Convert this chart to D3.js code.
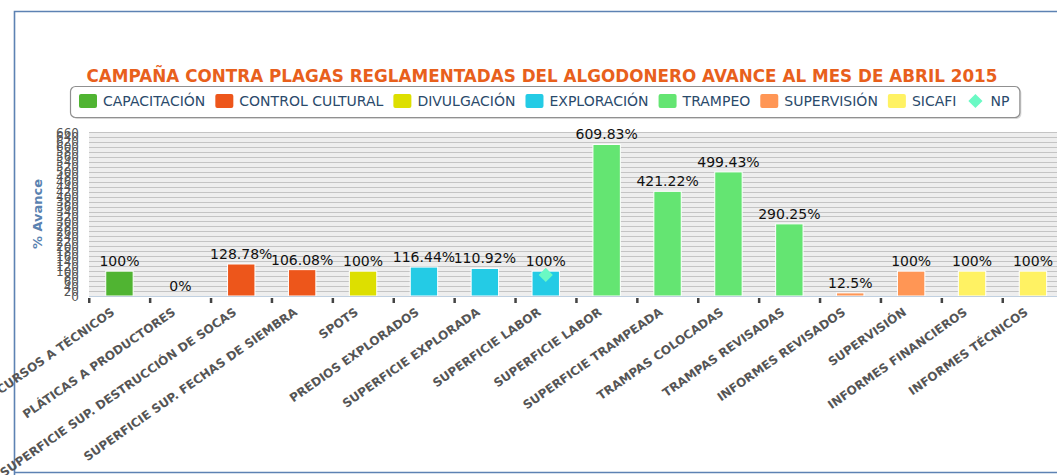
<!DOCTYPE html>
<html>
<head>
<meta charset="utf-8">
<script src="https://cdn.jsdelivr.net/npm/d3@7"></script>
<style>
  html, body { margin: 0; padding: 0; background: #fff; }
  svg { display: block; font-family: "DejaVu Sans", Verdana, sans-serif; }
</style>
</head>
<body>
<svg id="chart" width="1057" height="475"></svg>
<script>
// ---- data ----
const categories = [
  "CURSOS A TÉCNICOS", "PLÁTICAS A PRODUCTORES", "SUPERFICIE SUP. DESTRUCCIÓN DE SOCAS",
  "SUPERFICIE SUP. FECHAS DE SIEMBRA", "SPOTS", "PREDIOS EXPLORADOS", "SUPERFICIE EXPLORADA",
  "SUPERFICIE LABOR", "SUPERFICIE LABOR", "SUPERFICIE TRAMPEADA", "TRAMPAS COLOCADAS",
  "TRAMPAS REVISADAS", "INFORMES REVISADOS", "SUPERVISIÓN", "INFORMES FINANCIEROS", "INFORMES TÉCNICOS"
];
const values = [100, 0, 128.78, 106.08, 100, 116.44, 110.92, 100, 609.83, 421.22, 499.43, 290.25, 12.5, 100, 100, 100];
const valueLabels = ["100%", "0%", "128.78%", "106.08%", "100%", "116.44%", "110.92%", "100%",
  "609.83%", "421.22%", "499.43%", "290.25%", "12.5%", "100%", "100%", "100%"];
const seriesOfBar = ["CAPACITACIÓN", "CAPACITACIÓN", "CONTROL CULTURAL", "CONTROL CULTURAL", "DIVULGACIÓN",
  "EXPLORACIÓN", "EXPLORACIÓN", "EXPLORACIÓN", "TRAMPEO", "TRAMPEO", "TRAMPEO", "TRAMPEO",
  "SUPERVISIÓN", "SUPERVISIÓN", "SICAFI", "SICAFI"];
const seriesNames = ["CAPACITACIÓN", "CONTROL CULTURAL", "DIVULGACIÓN", "EXPLORACIÓN", "TRAMPEO", "SUPERVISIÓN", "SICAFI", "NP"];
const seriesColors = ["#50B432", "#ED561B", "#DDDF00", "#24CBE5", "#64E572", "#FF9655", "#FFF263", "#6AF9C4"];
const npCategoryIndex = [7];
const npValues = [85];
const yTicks = d3.range(0, 661, 20);
const titleText = "CAMPAÑA CONTRA PLAGAS REGLAMENTADAS DEL ALGODONERO AVANCE AL MES DE ABRIL 2015";
const yTitle = "% Avance";

// ---- layout ----
const svg = d3.select("#chart");
const plot = { left: 89, top: 132, bottom: 296, step: 60.9 };
const idx = categories.map((_, i) => i);
const x = d3.scaleBand().domain(idx).range([plot.left, plot.left + plot.step * categories.length]).padding(0);
const y = d3.scaleLinear().domain([0, 660]).range([plot.bottom, plot.top]);
const color = d3.scaleOrdinal().domain(seriesNames).range(seriesColors);

// frame
svg.append("path").attr("d", "M14.5,475 L14.5,11.5 L1060,11.5 M14.5,472.5 L1060,472.5")
  .attr("fill", "none").attr("stroke", "#5d82b3").attr("stroke-width", 1.6);

// plot background
svg.append("rect").attr("x", plot.left).attr("y", plot.top)
  .attr("width", 1100 - plot.left).attr("height", plot.bottom - plot.top)
  .attr("fill", "#eeeeee");

// gridlines
svg.append("g").selectAll("line").data(yTicks).join("line")
  .attr("x1", plot.left).attr("x2", 1100)
  .attr("y1", d => Math.round(y(d)) + 0.5).attr("y2", d => Math.round(y(d)) + 0.5)
  .attr("stroke", "#c4c4c4").attr("stroke-width", 1);

// y axis labels
svg.append("g").selectAll("text").data(yTicks).join("text")
  .attr("x", 79).attr("y", d => y(d) + 4.5)
  .attr("text-anchor", "end").attr("font-size", 12).attr("fill", "#555")
  .text(d => d);

// y title
svg.append("text").attr("transform", "translate(42,214) rotate(-90)")
  .attr("text-anchor", "middle").attr("font-size", 13).attr("font-weight", "bold")
  .attr("fill", "#5a82b0").text(yTitle);

// bars
const bw = x.bandwidth() * 0.45;
svg.append("g").selectAll("rect").data(idx.filter(i => values[i] > 0)).join("rect")
  .attr("x", i => x(i) + (x.bandwidth() - bw) / 2)
  .attr("y", i => y(values[i]))
  .attr("width", bw)
  .attr("height", i => y(0) - y(values[i]))
  .attr("fill", i => color(seriesOfBar[i]))
  .attr("stroke", "#fff").attr("stroke-width", 1);

// x axis line & ticks
svg.append("line").attr("x1", plot.left).attr("x2", 1100)
  .attr("y1", plot.bottom + 0.5).attr("y2", plot.bottom + 0.5)
  .attr("stroke", "#c0d0e0").attr("stroke-width", 1);
svg.append("g").selectAll("rect").data(idx).join("rect")
  .attr("x", i => x(i) - 1).attr("y", plot.bottom + 2)
  .attr("width", 2.5).attr("height", 5).attr("fill", "#444");

// data labels
svg.append("g").selectAll("text").data(idx).join("text")
  .attr("x", i => x(i) + x.bandwidth() / 2)
  .attr("y", i => y(values[i]) - 5)
  .attr("text-anchor", "middle").attr("font-size", 14).attr("fill", "#111")
  .text(i => valueLabels[i]);

// NP points
svg.append("g").selectAll("path").data(npCategoryIndex).join("path")
  .attr("transform", (c, k) => `translate(${x(c) + x.bandwidth() / 2},${y(npValues[k])})`)
  .attr("d", d3.symbol().type(d3.symbolDiamond2).size(128))
  .attr("fill", color("NP"));

// x labels
svg.append("g").selectAll("text").data(idx).join("text")
  .attr("transform", i => `translate(${x(i) + x.bandwidth() / 2 - 4},${plot.bottom + 18}) rotate(-35)`)
  .attr("text-anchor", "end").attr("font-size", 12).attr("font-weight", "bold")
  .attr("fill", "#555").text(i => categories[i]);

// title
svg.append("text").attr("x", 542).attr("y", 82).attr("text-anchor", "middle")
  .attr("font-size", 16.8).attr("font-weight", "bold").attr("fill", "#E8601C")
  .text(titleText);

// legend
const lg = svg.append("g");
const shadow = lg.append("rect");
const box = lg.append("rect");
let lx = 79;
seriesNames.forEach((name, k) => {
  if (name === "NP") {
    lg.append("path").attr("transform", `translate(${lx + 9},101)`)
      .attr("d", d3.symbol().type(d3.symbolDiamond2).size(128)).attr("fill", seriesColors[k]);
  } else {
    lg.append("rect").attr("x", lx).attr("y", 94).attr("width", 18).attr("height", 14).attr("rx", 2)
      .attr("fill", seriesColors[k]);
  }
  const t = lg.append("text").attr("x", lx + 24).attr("y", 106).attr("font-size", 14).attr("fill", "#2a4a6b").text(name);
  lx += 24 + t.node().getComputedTextLength() + 10;
});
const lw = lx - 70;
shadow.attr("x", 72).attr("y", 88).attr("width", lw).attr("height", 31).attr("rx", 5)
  .attr("fill", "#bbb").attr("opacity", 0.6);
box.attr("x", 70.5).attr("y", 86.5).attr("width", lw).attr("height", 31).attr("rx", 5)
  .attr("fill", "#fff").attr("stroke", "#909090").attr("stroke-width", 1.2);
</script>
</body>
</html>
